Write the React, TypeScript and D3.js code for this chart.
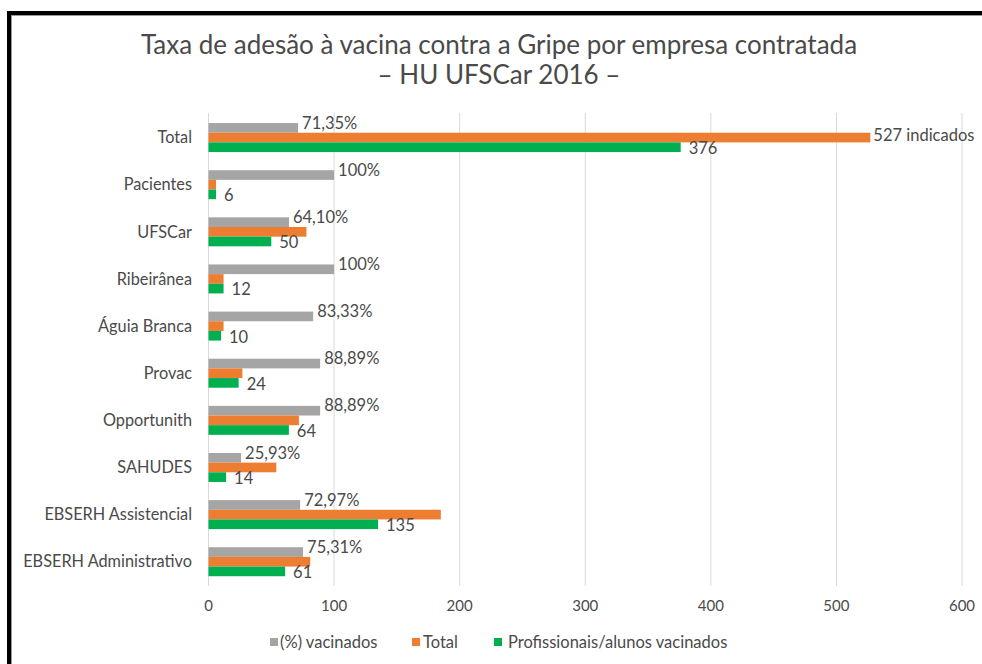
import React from "react";
import * as d3 from "d3";

const categories = [
  "Total",
  "Pacientes",
  "UFSCar",
  "Ribeirânea",
  "Águia Branca",
  "Provac",
  "Opportunith",
  "SAHUDES",
  "EBSERH Assistencial",
  "EBSERH Administrativo",
];

const percentVacinados = [71.35, 100, 64.1, 100, 83.33, 88.89, 88.89, 25.93, 72.97, 75.31];
const percentLabels = ["71,35%", "100%", "64,10%", "100%", "83,33%", "88,89%", "88,89%", "25,93%", "72,97%", "75,31%"];
const totals = [527, 6, 78, 12, 12, 27, 72, 54, 185, 81];
const vacinados = [376, 6, 50, 12, 10, 24, 64, 14, 135, 61];

const xTicks = [0, 100, 200, 300, 400, 500, 600];

const series = [
  { key: "pct", name: "(%) vacinados", color: "#A5A5A5" },
  { key: "total", name: "Total", color: "#ED7D31" },
  { key: "vac", name: "Profissionais/alunos vacinados", color: "#00B050" },
];

const W = 982;
const H = 664;
const FONT = "Lato, 'Open Sans', sans-serif";
const TEXT = "#4a4a4a";

export default function App() {
  const x = d3.scaleLinear().domain([0, 600]).range([208.5, 962]);
  const y = d3
    .scaleBand<string>()
    .domain(categories)
    .range([114, 585.3])
    .paddingInner(0.385)
    .paddingOuter(0.1925);
  const inner = d3
    .scaleBand<string>()
    .domain(series.map((s) => s.key))
    .range([0, y.bandwidth()]);

  const values: Record<string, number[]> = {
    pct: percentVacinados,
    total: totals,
    vac: vacinados,
  };

  const legendPos = [
    { sq: 270, tx: 280 },
    { sq: 412, tx: 423 },
    { sq: 494, tx: 508 },
  ];

  return (
    <svg
      width={W}
      height={H}
      style={{ position: "absolute", left: 0, top: 0, background: "#fff" }}
      fontFamily={FONT}
    >
      <rect x={0} y={0} width={W} height={H} fill="#fff" />
      {/* frame */}
      <rect x={7} y={11} width={W - 7} height={4} fill="#000" />
      <rect x={7} y={11} width={4} height={H - 11} fill="#000" />
      <rect x={11} y={15} width={W - 11} height={1} fill="#9a9a9a" />
      <rect x={11} y={15} width={1} height={H - 15} fill="#9a9a9a" />

      {/* title */}
      <text x={499} y={54} textAnchor="middle" fontSize={26} fill={TEXT}>
        Taxa de adesão à vacina contra a Gripe por empresa contratada
      </text>
      <text x={499} y={84} textAnchor="middle" fontSize={26} fill={TEXT}>
        – HU UFSCar 2016 –
      </text>

      {/* gridlines */}
      {xTicks.map((t) => (
        <line
          key={t}
          x1={x(t)}
          x2={x(t)}
          y1={113}
          y2={586}
          stroke="#D9D9D9"
          strokeWidth={1}
        />
      ))}

      {/* bars */}
      {categories.map((c, i) => (
        <g key={c} transform={`translate(0,${y(c)})`}>
          {series.map((s) => (
            <rect
              key={s.key}
              x={x(0)}
              y={inner(s.key)}
              width={x(values[s.key][i]) - x(0)}
              height={inner.bandwidth()}
              fill={s.color}
            />
          ))}
          <text
            x={x(percentVacinados[i]) + 4}
            y={(inner("pct") as number) + inner.bandwidth() / 2 - 5}
            dy="0.35em"
            fontSize={16.5}
            fill={TEXT}
          >
            {percentLabels[i]}
          </text>
          {i === 0 && (
            <text
              x={x(totals[i]) + 3}
              y={(inner("total") as number) + inner.bandwidth() / 2 - 2}
              dy="0.35em"
              fontSize={16.5}
              fill={TEXT}
            >
              {`${totals[i]} indicados`}
            </text>
          )}
          <text
            x={x(vacinados[i]) + 8}
            y={(inner("vac") as number) + inner.bandwidth() / 2 + 1}
            dy="0.35em"
            fontSize={16.5}
            fill={TEXT}
          >
            {vacinados[i]}
          </text>
          <text
            x={192}
            y={y.bandwidth() / 2}
            dy="0.35em"
            textAnchor="end"
            fontSize={16.3}
            fill={TEXT}
          >
            {c}
          </text>
        </g>
      ))}

      {/* x axis labels */}
      {xTicks.map((t) => (
        <text
          key={t}
          x={x(t)}
          y={606}
          dy="0.35em"
          textAnchor="middle"
          fontSize={15}
          fill={TEXT}
        >
          {t}
        </text>
      ))}

      {/* legend */}
      {series.map((s, i) => (
        <g key={s.key}>
          <rect x={legendPos[i].sq} y={638} width={8} height={8} fill={s.color} />
          <text x={legendPos[i].tx} y={642} dy="0.35em" fontSize={16.5} fill={TEXT}>
            {s.name}
          </text>
        </g>
      ))}
    </svg>
  );
}
